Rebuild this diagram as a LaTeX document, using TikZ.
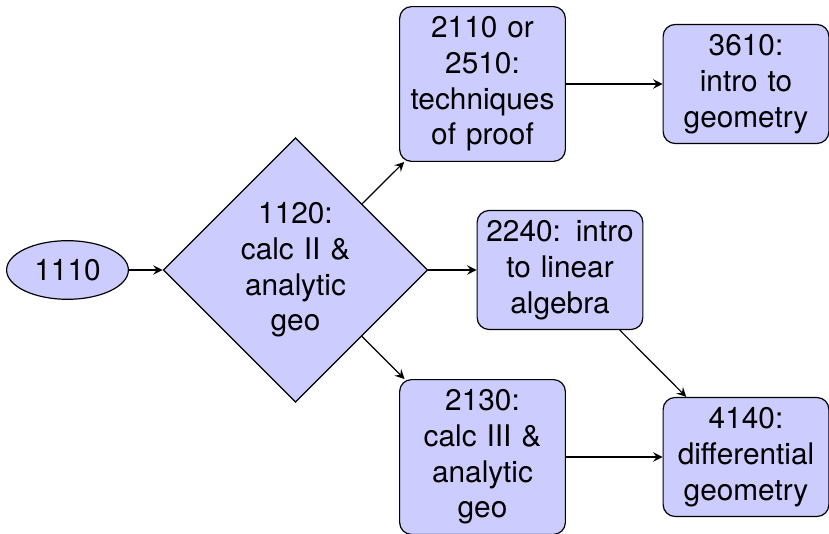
\documentclass[tikz,border=0pt]{standalone}
\usepackage{fontspec}
\setmainfont{TeX Gyre Heros}
\usetikzlibrary{shapes.geometric}

\begin{document}
\begin{tikzpicture}[x=0.01179cm, y=-0.01179cm,
  every node/.style={font=\fontsize{10}{12}\selectfont},
  course/.style={draw, fill=blue!20, rounded corners=4pt, text width=1.8cm, inner xsep=2.2pt, align=center},
  calc/.style={draw, fill=blue!20, diamond, aspect=1, inner sep=0pt, text width=1.4cm, align=center, minimum width=3.12cm, minimum height=3.12cm},
  start/.style={draw, fill=blue!20, ellipse},
  link/.style={-stealth}]
\useasboundingbox (0,0) rectangle (829,534);
\node[start] (c1110) at (67.5,270) {1110};
\node[calc] (c1120) at (295.5,270) {1120:\\ calc II \&\\ analytic\\ geo};
\node[course] (c2110) at (482.5,84) {2110 or\\ 2510:\\ techniques\\ of proof};
\node[course] (c3610) at (746,84) {3610:\\ intro to\\ geometry};
\node[course] (c2240) at (560,270) {2240: intro\\ to linear\\ algebra};
\node[course] (c2130) at (482.5,457) {2130:\\ calc III \&\\ analytic\\ geo};
\node[course] (c4140) at (746,457) {4140:\\ differential\\ geometry};
\draw[link] (c1110) -- (c1120);
\draw[link] (c1120) -- (c2110);
\draw[link] (c1120) -- (c2240);
\draw[link] (c1120) -- (c2130);
\draw[link] (c2110) -- (c3610);
\draw[link] (c2240) -- (c4140);
\draw[link] (c2130) -- (c4140);
\end{tikzpicture}
\end{document}
